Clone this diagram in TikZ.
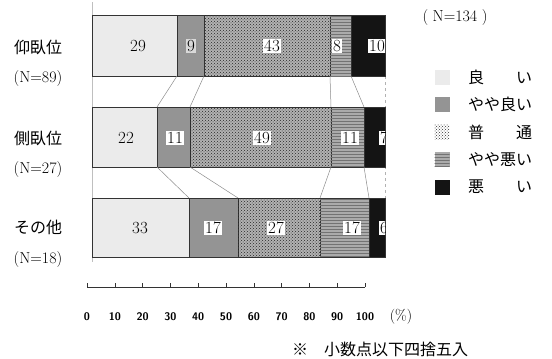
\documentclass[tikz,border=0pt]{standalone}
\usepackage{fontspec}
\newfontfamily\jp{Noto Sans CJK JP}
\usetikzlibrary{patterns}
\tikzset{
  seg/.style={anchor=north west, inner sep=0pt, outer sep=0pt, draw=black!80, line width=0.5pt},
  good/.style={fill=black!8},
  fgood/.style={fill=black!42},
  normal/.style={fill=black!30, postaction={pattern=crosshatch dots, pattern color=black!85}},
  fbad/.style={fill=black!33, postaction={pattern=horizontal lines, pattern color=black!55}},
  bad/.style={fill=black!92},
  num/.style={font=\fontsize{17}{17}\selectfont, inner sep=1pt},
  boxed/.style={num, fill=white},
  rowlab/.style={font=\jp\fontsize{16}{16}\selectfont},
  nlab/.style={font=\fontsize{16}{16}\selectfont},
  legtxt/.style={anchor=west, font=\jp\fontsize{16}{16}\selectfont, inner sep=0pt},
  sw/.style={minimum width=15pt, minimum height=15pt, inner sep=0pt},
  conn/.style={draw=black!45, line width=0.5pt},
  tick/.style={font=\sffamily\bfseries\fontsize{11}{11}\selectfont}
}
\begin{document}
\begin{tikzpicture}[x=1pt,y=-1pt]
\useasboundingbox (0,0) rectangle (552,359);
% faint guide lines
\draw[black!25, line width=0.4pt] (92,2) -- (92,262);
\draw[black!30, dashed, line width=0.4pt] (385,76) -- (385,198);
% bar 1
\node[seg, good,  minimum width=85pt,  minimum height=61pt] (a1) at (92,15) {};
\node[seg, fgood, minimum width=27pt,  minimum height=61pt] (a2) at (177,15) {};
\node[seg, normal,minimum width=126pt, minimum height=61pt] (a3) at (204,15) {};
\node[seg, fbad,  minimum width=21pt,  minimum height=61pt] (a4) at (330,15) {};
\node[seg, bad,   minimum width=34pt,  minimum height=61pt] (a5) at (351,15) {};
% bar 2
\node[seg, good,  minimum width=65pt,  minimum height=60pt] (b1) at (92,107) {};
\node[seg, fgood, minimum width=33pt,  minimum height=60pt] (b2) at (157,107) {};
\node[seg, normal,minimum width=141pt, minimum height=60pt] (b3) at (190,107) {};
\node[seg, fbad,  minimum width=33pt,  minimum height=60pt] (b4) at (331,107) {};
\node[seg, bad,   minimum width=21pt,  minimum height=60pt] (b5) at (364,107) {};
% bar 3
\node[seg, good,  minimum width=97pt,  minimum height=59pt] (c1) at (92,198) {};
\node[seg, fgood, minimum width=49pt,  minimum height=59pt] (c2) at (189,198) {};
\node[seg, normal,minimum width=82pt,  minimum height=59pt] (c3) at (238,198) {};
\node[seg, fbad,  minimum width=49pt,  minimum height=59pt] (c4) at (320,198) {};
\node[seg, bad,   minimum width=16pt,  minimum height=59pt] (c5) at (369,198) {};
% connectors
\draw[conn] (a1.south east) -- (b1.north east);
\draw[conn] (a2.south east) -- (b2.north east);
\draw[conn] (a3.south east) -- (b3.north east);
\draw[conn] (a4.south east) -- (b4.north east);
\draw[conn] (b1.south east) -- (c1.north east);
\draw[conn] (b2.south east) -- (c2.north east);
\draw[conn] (b3.south east) -- (c3.north east);
\draw[conn] (b4.south east) -- (c4.north east);
% values
\node[num]   (v11) at (138,46) {29};
\node[boxed, fill=black!15] (v12) at (191,46) {9};
\node[boxed] (v13) at (272,46) {43};
\node[boxed] (v14) at (337,46) {8};
\node[num]   (v21) at (126,138) {22};
\node[boxed] (v22) at (175,138) {11};
\node[boxed] (v23) at (262,138) {49};
\node[boxed] (v24) at (350,138) {11};
\node[num]   (v31) at (140,228) {33};
\node[boxed] (v32) at (213,228) {17};
\node[boxed] (v33) at (276,228) {27};
\node[boxed] (v34) at (352,228) {17};
\begin{scope}
\clip (351,0) rectangle (385,270);
\node[boxed] (v15) at (377,46) {10};
\node[boxed] (v25) at (384,138) {7};
\node[boxed] (v35) at (384,228) {6};
\end{scope}
% row labels
\node[rowlab] (r1) at (38,47) {仰臥位};
\node[nlab]   (n1) at (38,79) {(N=89)};
\node[rowlab] (r2) at (38,138) {側臥位};
\node[nlab]   (n2) at (38,170) {(N=27)};
\node[rowlab] (r3) at (38,227) {その他};
\node[nlab]   (n3) at (38,260) {(N=18)};
\node[nlab] (ntot) at (455,18) {(\;N=134\;)};
% legend
\node[sw, good]   (l1) at (442,77) {};
\node[sw, fgood]  (l2) at (442,104.5) {};
\node[sw, fill=white, postaction={pattern=crosshatch dots, pattern color=black!80}] (l3) at (442,132) {};
\node[sw, fbad]   (l4) at (442,159.5) {};
\node[sw, bad]    (l5) at (442,187) {};
\node[legtxt] (t1) at (468,77) {良　　い};
\node[legtxt] (t2) at (468,104.5) {やや良い};
\node[legtxt] (t3) at (468,132) {普　　通};
\node[legtxt] (t4) at (468,159.5) {やや悪い};
\node[legtxt] (t5) at (468,187) {悪　　い};
% axis
\coordinate (ax0) at (87,287);
\coordinate (ax1) at (365,287);
\draw[black!80, line width=0.6pt] (ax0) -- (ax1);
\foreach \i in {0,...,10} {
  \draw[black!80, line width=0.5pt] (87+27.8*\i,287) -- (87+27.8*\i,283);
  \pgfmathtruncatemacro{\v}{10*\i}
  \node[tick] (tk\i) at (87+27.8*\i,317) {\v};
}
\node[font=\fontsize{15}{15}\selectfont] (pct) at (401,317) {(\%)};
% footnote
\node[anchor=west, font=\jp\fontsize{16}{16}\selectfont, inner sep=0pt] (note) at (292,349) {※　小数点以下四捨五入};
\end{tikzpicture}
\end{document}
